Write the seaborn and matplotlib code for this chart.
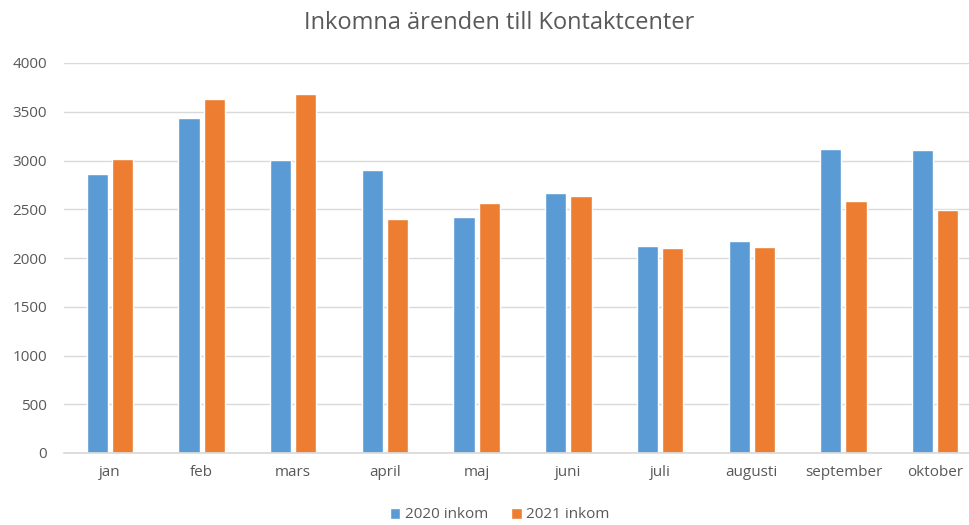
import pandas as pd
import matplotlib.pyplot as plt
import seaborn as sns
from matplotlib.patches import Patch

months = ["jan", "feb", "mars", "april", "maj", "juni", "juli", "augusti", "september", "oktober"]
inkom_2020 = [2860, 3440, 3010, 2900, 2420, 2670, 2120, 2170, 3120, 3110]
inkom_2021 = [3020, 3630, 3680, 2400, 2560, 2640, 2100, 2110, 2580, 2490]
series = ["2020 inkom", "2021 inkom"]
colors = ["#5B9BD5", "#ED7D31"]

df = pd.DataFrame({
    "month": months * 2,
    "value": inkom_2020 + inkom_2021,
    "serie": [series[0]] * len(months) + [series[1]] * len(months),
})

sns.set_theme(style="white")
plt.rcParams["font.family"] = ["Open Sans", "DejaVu Sans"]

fig = plt.figure(figsize=(9.7, 5.25), dpi=100)
ax = fig.add_axes([64 / 970, 1 - 453 / 525, (981 - 64) / 970, (453 - 63) / 525])

sns.barplot(data=df, x="month", y="value", hue="serie", palette=colors,
            width=0.55, gap=0.16, ax=ax, legend=False, saturation=1)

ax.set_xlim(-0.5, 9.5)
ax.set_ylim(0, 4000)
ax.set_yticks(range(0, 4001, 500))
ax.yaxis.grid(True, color="#D9D9D9", linewidth=1)
ax.set_axisbelow(True)
for s in ["top", "right", "left"]:
    ax.spines[s].set_visible(False)
ax.spines["bottom"].set_color("#D9D9D9")
ax.tick_params(axis="both", length=0, labelsize=11, labelcolor="#595959")
ax.tick_params(axis="x", pad=9)
ax.tick_params(axis="y", pad=12)
ax.set_xlabel("")
ax.set_ylabel("")

fig.text(0.515, 1 - 23 / 525, "Inkomna ärenden till Kontaktcenter", ha="center", va="center",
         fontsize=17, color="#595959")

handles = [Patch(facecolor=c, label=l) for c, l in zip(colors, series)]
fig.legend(handles=handles, loc="center", bbox_to_anchor=(0.515, 1 - 515 / 525), ncol=2,
           frameon=False, fontsize=11, handlelength=0.7, handleheight=0.7,
           handletextpad=0.3, columnspacing=1.5, labelcolor="#595959")

fig.savefig("out.png", dpi=100)
